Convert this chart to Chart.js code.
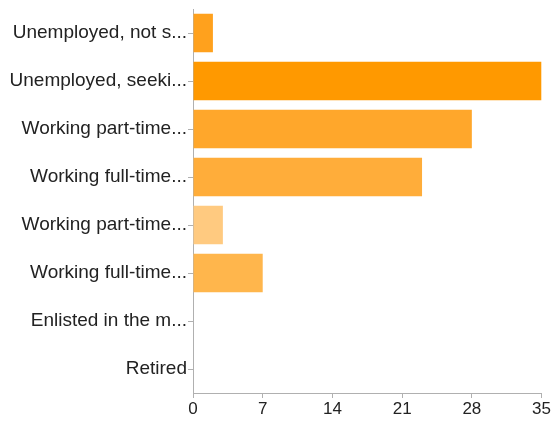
<!DOCTYPE html>
<html><head><meta charset="utf-8">
<script src="https://cdn.jsdelivr.net/npm/chart.js@4/dist/chart.umd.min.js"></script>
<style>html,body{margin:0;padding:0;background:#fff}#wrap{width:554px;height:421px}</style>
</head><body><div id="wrap"><canvas id="c"></canvas></div>
<script>
const categories = ["Unemployed, not s...", "Unemployed, seeki...", "Working part-time...", "Working full-time...", "Working part-time...", "Working full-time...", "Enlisted in the m...", "Retired"];
const values = [2, 35, 28, 23, 3, 7, 0, 0];
const barColors = ["#ffa11d", "#ff9900", "#ffa72b", "#ffad3a", "#ffca80", "#ffb64c", "#ffd9a6", "#ffd9a6"];
const xTicks = [0, 7, 14, 21, 28, 35];

new Chart(document.getElementById('c'), {
  type: 'bar',
  data: { labels: categories, datasets: [{ data: values, backgroundColor: barColors, borderWidth: 0, barPercentage: 0.8, categoryPercentage: 1.0 }] },
  options: {
    indexAxis: 'y', responsive: true, maintainAspectRatio: false, animation: false,
    layout: { padding: { top: 0, right: 9, left: 0, bottom: 0 } },
    plugins: { legend: { display: false }, tooltip: { enabled: false } },
    scales: {
      x: { min: 0, max: 35, afterBuildTicks: a => { a.ticks = xTicks.map(v => ({ value: v })); },
        grid: { drawOnChartArea: false, color: '#b0b0b0', tickLength: 5 },
        border: { color: '#b0b0b0' },
        ticks: { color: '#222', font: { family: 'Liberation Sans, Arial', size: 17, lineHeight: 1.0 }, padding: 3 } },
      y: { afterFit: s => { s.width = 193; s.paddingTop = 9; s.paddingBottom = 0; },
        grid: { drawOnChartArea: false, offset: false, color: '#b0b0b0', tickLength: 5 },
        border: { color: '#b0b0b0' },
        ticks: { color: '#222', font: { family: 'Liberation Sans, Arial', size: 19, lineHeight: 0.85 }, padding: 1 } }
    }
  }
});
</script></body></html>
